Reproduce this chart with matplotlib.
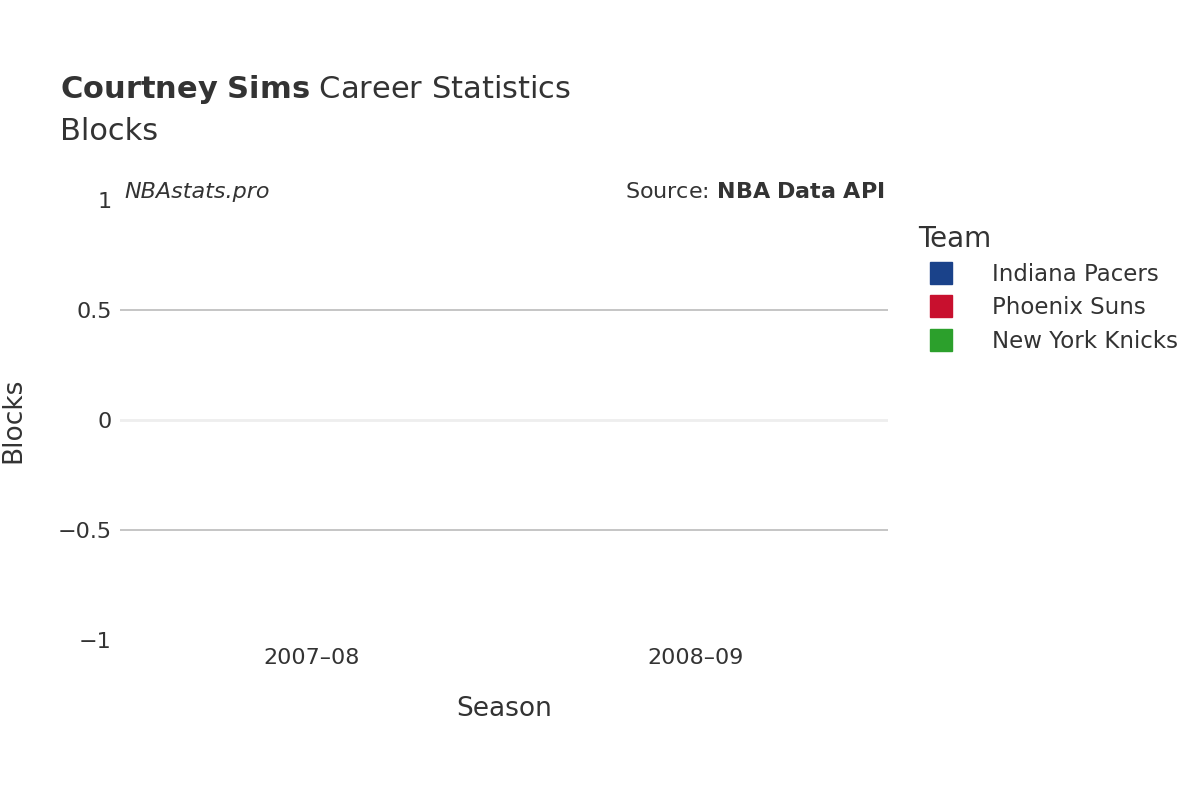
import matplotlib
matplotlib.use("Agg")
import matplotlib.pyplot as plt
from matplotlib.lines import Line2D

seasons = ["2007–08", "2008–09"]
teams = ["Indiana Pacers", "Phoenix Suns", "New York Knicks"]
colors = ["#1a428a", "#c8102e", "#2ca02c"]
# blocks per team per season (all zero)
values = {
    "Indiana Pacers": [0, None],
    "Phoenix Suns": [None, 0],
    "New York Knicks": [None, 0],
}

fig = plt.figure(figsize=(12, 8), dpi=100)
ax = fig.add_axes([0.1, 0.2, 0.64, 0.55])
txt = "#333333"

width = 0.25
offsets = {"Indiana Pacers": 0.0, "Phoenix Suns": -0.15, "New York Knicks": 0.15}
for t, c in zip(teams, colors):
    xs, ys = [], []
    for i, v in enumerate(values[t]):
        if v is not None:
            xs.append(i + offsets[t]); ys.append(v)
    ax.bar(xs, ys, width=width, color=c)

ax.set_xlim(-0.5, 1.5)
ax.set_ylim(-1, 1)
ax.set_yticks([-1, -0.5, 0, 0.5, 1])
ax.set_yticklabels(["−1", "−0.5", "0", "0.5", "1"])
ax.set_xticks([0, 1])
ax.set_xticklabels(seasons)
for y in [-0.5, 0.5]:
    ax.axhline(y, color="#bbbbbb", lw=1.2, zorder=0)
ax.axhline(0, color="#eeeeee", lw=2, zorder=0)
for s in ax.spines.values():
    s.set_visible(False)
ax.tick_params(length=0, labelsize=16, colors=txt, pad=6)
ax.set_xlabel("Season", fontsize=19, color=txt, labelpad=20)
ax.yaxis.set_label_coords(-0.122, 0.5)
ax.set_ylabel("Blocks", fontsize=19, color=txt)

fig.text(0.05, 0.878, r"$\bf{Courtney\ Sims}$ Career Statistics", fontsize=22, color=txt, va="baseline")
fig.text(0.05, 0.825, "Blocks", fontsize=22, color=txt, va="baseline")
fig.text(0.104, 0.76, "NBAstats.pro", fontsize=16, style="italic", color=txt, va="center")
fig.text(0.737, 0.76, r"Source: $\bf{NBA\ Data\ API}$", fontsize=16, color=txt, va="center", ha="right")

handles = [Line2D([], [], marker="s", ls="", markersize=16, color=c) for c in colors]
leg = fig.legend(handles, teams, loc="upper left", bbox_to_anchor=(0.748, 0.745),
                 frameon=False, fontsize=16.5, title="Team", title_fontsize=20,
                 labelcolor=txt, handletextpad=1.2, labelspacing=0.45)
leg._legend_box.align = "left"
leg.get_title().set_color(txt)

fig.savefig("out.png")
